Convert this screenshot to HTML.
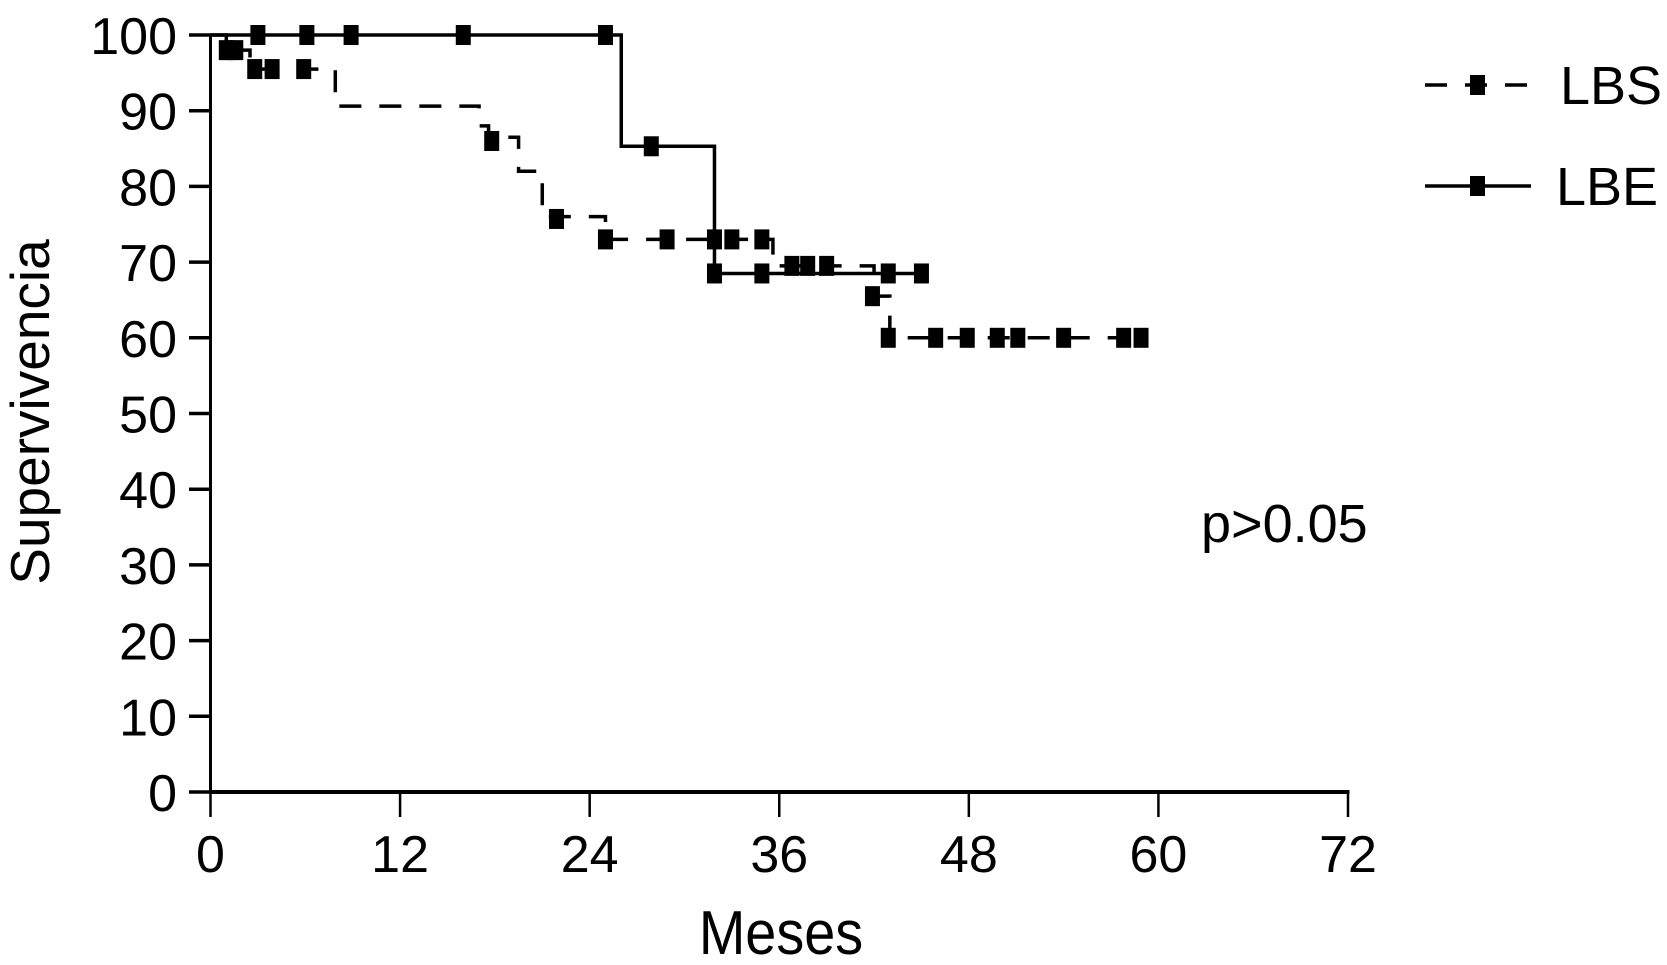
<!DOCTYPE html>
<html><head><meta charset="utf-8"><style>
html,body{margin:0;padding:0;background:#fff;}
svg{display:block;font-family:"Liberation Sans",sans-serif;}
</style></head><body>
<svg id="chart" width="1667" height="965" viewBox="0 0 1667 965" xmlns="http://www.w3.org/2000/svg">
<g id="axes"></g>
<g id="series"></g>
<text transform="translate(49,412) rotate(-90)" text-anchor="middle" font-size="55">Supervivencia</text>
<text transform="translate(781,954) scale(0.9,1)" text-anchor="middle" font-size="62">Meses</text>
<text x="1201" y="542" font-size="54">p&gt;0.05</text>
<g>
  <line x1="1425" y1="85" x2="1531" y2="85" stroke="#000" stroke-width="3.5" stroke-dasharray="22,18"/>
  <rect x="1470" y="75" width="15" height="20" fill="#000"/>
  <text x="1560" y="104" font-size="54">LBS</text>
  <line x1="1425" y1="186" x2="1531" y2="186" stroke="#000" stroke-width="3.5"/>
  <rect x="1470" y="176" width="15" height="20" fill="#000"/>
  <text x="1556" y="205" font-size="54">LBE</text>
</g>
</svg>
<script>
const xTicks = [0, 12, 24, 36, 48, 60, 72];
const yTicks = [0, 10, 20, 30, 40, 50, 60, 70, 80, 90, 100];
// LBS (dashed) step function
const lbsTimes = [0, 1, 2.5, 7.9, 17, 17.6, 19.5, 21, 25, 35.6, 42, 43];
const lbsSurv  = [100, 98, 95.5, 90.6, 88, 86.5, 82, 76, 73, 69.5, 65.5, 60];
const lbsEnd = 59;
const lbsCensorT = [1, 1.6, 2.8, 3.9, 5.9, 17.8, 21.9, 25, 28.9, 31.9, 33, 34.9, 36.8, 37.8, 39, 41.9, 42.9, 45.9, 47.9, 49.8, 51.1, 54, 57.8, 58.9];
const lbsCensorS = [98, 98, 95.5, 95.5, 95.5, 86, 75.7, 73, 73, 73, 73, 73, 69.5, 69.5, 69.5, 65.5, 60, 60, 60, 60, 60, 60, 60, 60];
// LBE (solid) step function
const lbeTimes = [0, 26, 31.9];
const lbeSurv  = [100, 85.3, 68.5];
const lbeEnd = 45;
const lbeCensorT = [3, 6.1, 8.9, 16, 25, 27.9, 31.9, 34.9, 42.9, 45];
const lbeCensorS = [100, 100, 100, 100, 100, 85.3, 68.5, 68.5, 68.5, 68.5];

const X0 = 210.5, X1 = 1348, Y0 = 792, Y1 = 35;
const xs = t => X0 + (X1 - X0) * t / 72;
const ys = v => Y0 - (Y0 - Y1) * v / 100;
const NS = 'http://www.w3.org/2000/svg';
function mk(tag, attrs, parent) {
  const e = document.createElementNS(NS, tag);
  for (const k in attrs) e.setAttribute(k, attrs[k]);
  parent.appendChild(e);
  return e;
}
const axes = document.getElementById('axes');
const series = document.getElementById('series');
let el = mk('line', {x1: X0, y1: Y0, x2: X0, y2: Y1, stroke: '#000', 'stroke-width': 3}, axes);


el = mk('line', {x1: X0 - 1.5, y1: Y0, x2: X1 + 1.5, y2: Y0, stroke: '#000', 'stroke-width': 4}, axes);


yTicks.forEach(v => {
  const t = mk('line', {x1: 189, y1: ys(v), x2: X0, y2: ys(v), stroke: '#000', 'stroke-width': 3.5}, axes);
  
  
  const l = mk('text', {x: 177, y: ys(v) + 19, 'text-anchor': 'end', 'font-size': 52}, axes);
  l.textContent = v;
  
  
});
xTicks.forEach(v => {
  const t = mk('line', {x1: xs(v), y1: Y0, x2: xs(v), y2: 817, stroke: '#000', 'stroke-width': 2.5}, axes);
  
  
  const l = mk('text', {x: xs(v), y: 872, 'text-anchor': 'middle', 'font-size': 52}, axes);
  l.textContent = v;
  
  
});
function stepPath(times, surv, end) {
  let d = 'M' + xs(times[0]) + ',' + ys(surv[0]);
  for (let i = 1; i < times.length; i++) {
    d += ' H' + xs(times[i]) + ' V' + ys(surv[i]);
  }
  d += ' H' + xs(end);
  return d;
}
el = mk('path', {d: stepPath(lbsTimes, lbsSurv, lbsEnd), fill: 'none', stroke: '#000', 'stroke-width': 3.5, 'stroke-dasharray': '22,18'}, series);


el = mk('path', {d: stepPath(lbeTimes, lbeSurv, lbeEnd), fill: 'none', stroke: '#000', 'stroke-width': 3.5}, series);


lbsCensorT.forEach((t, i) => {
  const r = mk('rect', {x: xs(t) - 7.5, y: ys(lbsCensorS[i]) - 10, width: 15, height: 20, fill: '#000'}, series);
  
  
});
lbeCensorT.forEach((t, i) => {
  const r = mk('rect', {x: xs(t) - 7.5, y: ys(lbeCensorS[i]) - 10, width: 15, height: 20, fill: '#000'}, series);
  
  
});
</script>
</body></html>
